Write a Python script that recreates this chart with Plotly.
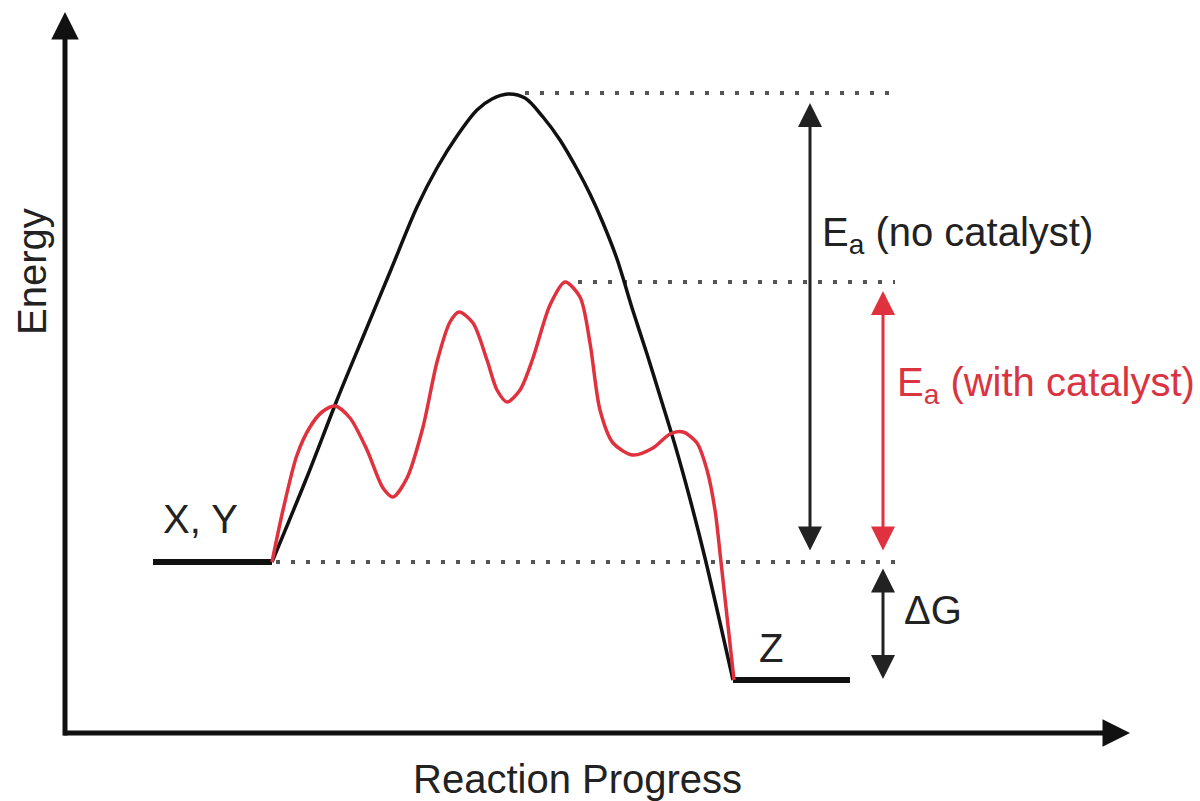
import plotly.graph_objects as go

# ---------------- data (reaction progress vs energy, arbitrary units) ----------------
progress_uncat = [272, 307, 337, 363, 390, 417, 437, 457, 477, 492, 508, 525, 543, 560,
                  577, 590, 603, 617, 633, 647, 660, 675, 690, 705, 733]
energy_uncat = [239, 324, 401, 464, 529, 594, 633, 665, 691, 702, 707, 703, 684, 661,
                632, 607, 578, 542, 490, 447, 405, 356, 302, 243, 121]

progress_cat = [272, 283, 297, 310, 322, 335, 350, 367, 383, 393, 407, 423, 437, 450, 459,
                473, 487, 497, 507, 520, 533, 550, 565, 580, 590, 600, 613, 633, 653, 670,
                683, 697, 707, 715, 721, 734]
energy_cat = [239, 291, 346, 374, 389, 395, 383, 351, 313, 304, 323, 374, 439, 479, 489,
              478, 441, 411, 399, 411, 443, 496, 519, 504, 458, 391, 358, 346, 353, 367,
              369, 358, 331, 291, 239, 121]

reactant_x = [153, 272]
reactant_energy = 239
product_x = [733, 850]
product_energy = 121
ts_uncat_energy = 708
ts_cat_energy = 519

level_labels = ["X, Y", "Z"]
ea_labels = ["E<sub>a</sub> (no catalyst)", "E<sub>a</sub> (with catalyst)"]
dg_label = "ΔG"
x_title = "Reaction Progress"
y_title = "Energy"

# ---------------- styling ----------------
BLACK = "#111111"
RED = "#e0323e"
RED_TEXT = "#d9343f"
DOT = "#555555"
FONT = "Liberation Sans, Arial, sans-serif"
DOTDASH = "4px,11px"

fig = go.Figure()

# reactant / product plateaus
fig.add_trace(go.Scatter(x=reactant_x, y=[reactant_energy] * 2, mode="lines",
                         line=dict(color=BLACK, width=6), hoverinfo="skip"))
fig.add_trace(go.Scatter(x=product_x, y=[product_energy] * 2, mode="lines",
                         line=dict(color=BLACK, width=6), hoverinfo="skip"))

# dotted reference lines
fig.add_trace(go.Scatter(x=[276, 895], y=[reactant_energy] * 2, mode="lines",
                         line=dict(color=DOT, width=4, dash=DOTDASH), hoverinfo="skip"))
fig.add_trace(go.Scatter(x=[525, 890], y=[ts_uncat_energy] * 2, mode="lines",
                         line=dict(color=DOT, width=4, dash=DOTDASH), hoverinfo="skip"))
fig.add_trace(go.Scatter(x=[578, 895], y=[ts_cat_energy] * 2, mode="lines",
                         line=dict(color=DOT, width=4, dash=DOTDASH), hoverinfo="skip"))

# energy profiles
fig.add_trace(go.Scatter(x=progress_uncat, y=energy_uncat, mode="lines",
                         line=dict(color=BLACK, width=3.5, shape="spline", smoothing=0.9),
                         hoverinfo="skip"))
fig.add_trace(go.Scatter(x=progress_cat, y=energy_cat, mode="lines",
                         line=dict(color=RED, width=3.5, shape="spline", smoothing=0.8),
                         hoverinfo="skip"))


def arrow(x0, y0, x1, y1, color, width, size, both=False):
    """Arrow from (x0,y0) to tip (x1,y1)."""
    fig.add_annotation(x=x1, y=y1, ax=x0, ay=y0, xref="x", yref="y", axref="x", ayref="y",
                       text="", showarrow=True, arrowhead=2, arrowsize=size,
                       arrowwidth=width, arrowcolor=color,
                       arrowside="end+start" if both else "end",
                       startarrowhead=2, startarrowsize=size)


# main axes
arrow(65, 64, 65, 789, BLACK, 5, 1.1)
arrow(62, 68, 1130, 68, BLACK, 5, 1.1)

# Ea / dG arrows
arrow(810, reactant_energy + 10, 810, ts_uncat_energy - 10, "#222222", 3, 1.6, both=True)
arrow(883, reactant_energy + 10, 883, ts_cat_energy - 9, RED, 3, 1.6, both=True)
arrow(883, reactant_energy - 5, 883, product_energy + 1, "#222222", 3, 1.6, both=True)

# text
def label(x, y, text, color="#222222", size=40, xanchor="center", angle=0):
    fig.add_annotation(x=x, y=y, xref="x", yref="y", text=text, showarrow=False,
                       xanchor=xanchor, yanchor="middle", textangle=angle,
                       font=dict(family=FONT, size=size, color=color))


label(200, 282, level_labels[0])
label(771, 153, level_labels[1])
label(820, 566, ea_labels[0], xanchor="left")
label(895, 416, ea_labels[1], color=RED_TEXT, xanchor="left")
label(933, 191, dg_label)
label(32, 529, y_title, angle=-90)
label(577, 22, x_title)

fig.update_layout(
    width=1200, height=801,
    margin=dict(l=0, r=0, t=0, b=0),
    paper_bgcolor="white", plot_bgcolor="white",
    showlegend=False,
    xaxis=dict(range=[0, 1200], visible=False, fixedrange=True),
    yaxis=dict(range=[0, 801], visible=False, fixedrange=True),
)

fig.write_html("out.html", config={"displayModeBar": False},
               post_script="document.body.style.margin='0px';")
